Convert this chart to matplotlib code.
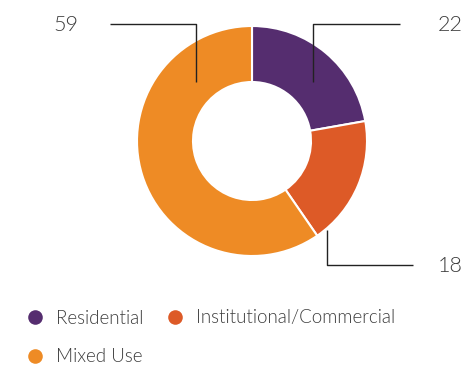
import matplotlib.pyplot as plt

# data
labels = ["Residential", "Institutional/Commercial", "Mixed Use"]
values = [22, 18, 59]
colors = ["#552d6f", "#dd5a27", "#ee8b25"]

text_color = "#3c3c3c"
plt.rcParams['font.family'] = ['Lato', 'DejaVu Sans']

fig = plt.figure(figsize=(4.70, 3.66), dpi=100)
ax = fig.add_axes([0, 0, 1, 1])

# donut in pixel-like coordinates (y flipped, so go counterclock to look clockwise)
ax.pie(values, colors=colors, startangle=-90, counterclock=True,
       center=(252, 141), radius=115, frame=True,
       wedgeprops=dict(width=56, edgecolor="white", linewidth=1.5))
ax.set_xlim(0, 470)
ax.set_ylim(366, 0)
ax.axis("off")

# leader lines: (elbow x, inner y, outer y, end x, label x, ha)
leaders = [
    (313, 82, 24, 400, 438, "left"),   # 22
    (327, 230, 265, 413, 438, "left"), # 18
    (196, 82, 24, 110, 78, "right"),   # 59
]
for (xe, y0, y1, xend, xt, ha), v in zip(leaders, values):
    ax.plot([xe, xe, xend], [y0, y1, y1], color="#222222", lw=1.0,
            solid_capstyle="butt")
    ax.text(xt, y1 + 1, str(v), ha=ha, va="center", fontsize=15.5,
            color=text_color, fontweight=300)

# legend
legend_pos = [(35, 317), (175, 317), (35, 356)]
for (x, y), lab, c in zip(legend_pos, labels, colors):
    ax.plot(x, y, "o", ms=10.5, color=c, mec="none")
    ax.text(x + 21, y + 1, lab, ha="left", va="center", fontsize=13.5,
            color=text_color, fontweight=300)

fig.savefig("out.png", dpi=100)
